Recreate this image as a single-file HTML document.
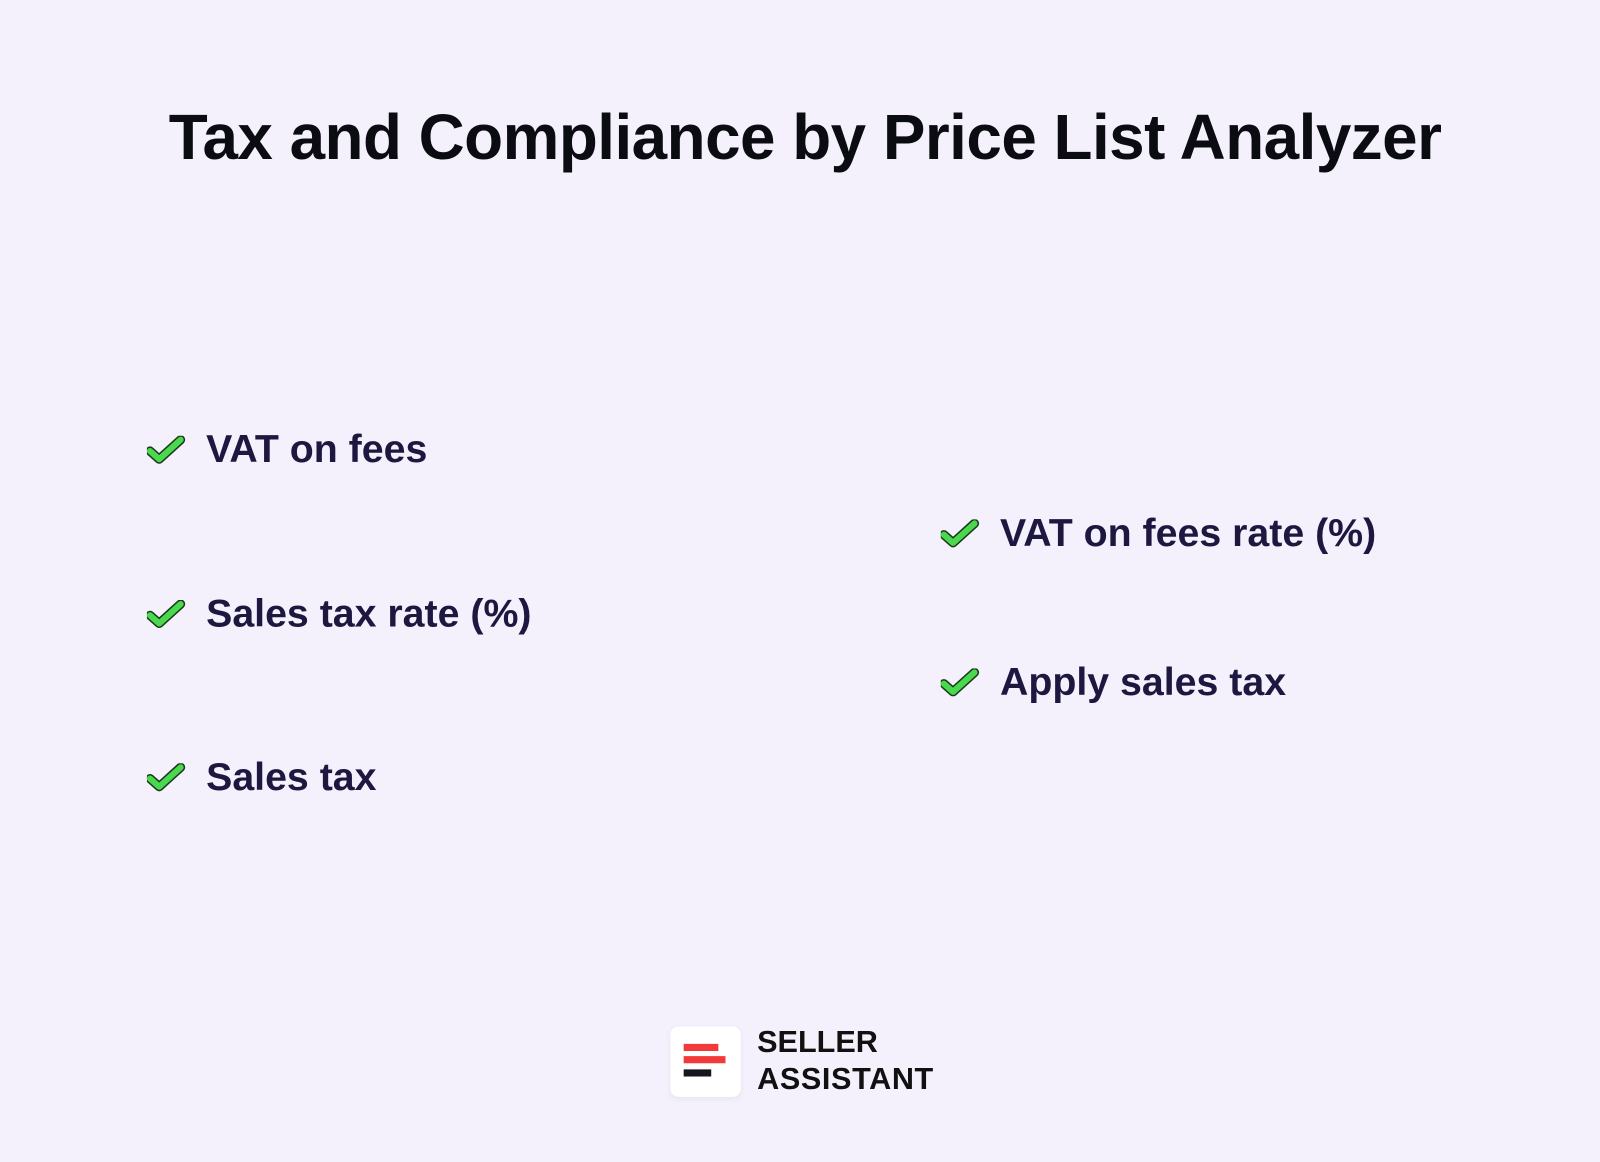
<!DOCTYPE html>
<html><head><style>
body{margin:0;width:1600px;height:1162px;background:#f4f1fc;font-family:"Liberation Sans",Arial,sans-serif;position:relative;overflow:hidden}
#w{position:absolute;left:0;top:0;width:1568px;height:1139px;transform:scale(1.0204);transform-origin:0 0}
.t{position:absolute;left:0;width:1578px;text-align:center;top:99px;font-size:62.5px;font-weight:bold;color:#0b0b12;letter-spacing:-0.5px}
.i{position:absolute;font-size:38.5px;font-weight:bold;color:#1e1840;line-height:44px;white-space:nowrap}
.i svg{position:absolute;left:-58px;top:8px}
.logo{position:absolute;left:657px;top:1006px;width:69px;height:69px;background:#fff;border-radius:8px;box-shadow:0 2px 6px rgba(0,0,0,0.06)}
.b{position:absolute;height:7px}
.lt{position:absolute;left:742px;font-size:30px;font-weight:bold;color:#111;line-height:34px}
</style></head><body><div id="w">
<div class="t">Tax and Compliance by Price List Analyzer</div>
<svg width="0" height="0" style="position:absolute"><defs><path id="ck" d="M3 15 L12 23 L33 4" fill="none" stroke-linecap="round" stroke-linejoin="round"/></defs></svg>
<div class="i" style="left:202px;top:419px"><svg width="38" height="30"><use href="#ck" stroke="#1a3a1a" stroke-width="9"/><use href="#ck" stroke="#4ad84f" stroke-width="6"/></svg>VAT on fees</div>
<div class="i" style="left:202px;top:580px"><svg width="38" height="30"><use href="#ck" stroke="#1a3a1a" stroke-width="9"/><use href="#ck" stroke="#4ad84f" stroke-width="6"/></svg>Sales tax rate (%)</div>
<div class="i" style="left:202px;top:740px"><svg width="38" height="30"><use href="#ck" stroke="#1a3a1a" stroke-width="9"/><use href="#ck" stroke="#4ad84f" stroke-width="6"/></svg>Sales tax</div>
<div class="i" style="left:980px;top:501px"><svg width="38" height="30"><use href="#ck" stroke="#1a3a1a" stroke-width="9"/><use href="#ck" stroke="#4ad84f" stroke-width="6"/></svg>VAT on fees rate (%)</div>
<div class="i" style="left:980px;top:647px"><svg width="38" height="30"><use href="#ck" stroke="#1a3a1a" stroke-width="9"/><use href="#ck" stroke="#4ad84f" stroke-width="6"/></svg>Apply sales tax</div>
<div class="logo">
<div class="b" style="left:13px;top:17px;width:34px;background:#f23a3a"></div>
<div class="b" style="left:13px;top:29px;width:41px;background:#f23a3a"></div>
<div class="b" style="left:13px;top:42px;width:27px;background:#16161e"></div>
</div>
<div class="lt" style="top:1005px">SELLER</div>
<div class="lt" style="top:1041px;letter-spacing:0.6px">ASSISTANT</div>
</div></body></html>
